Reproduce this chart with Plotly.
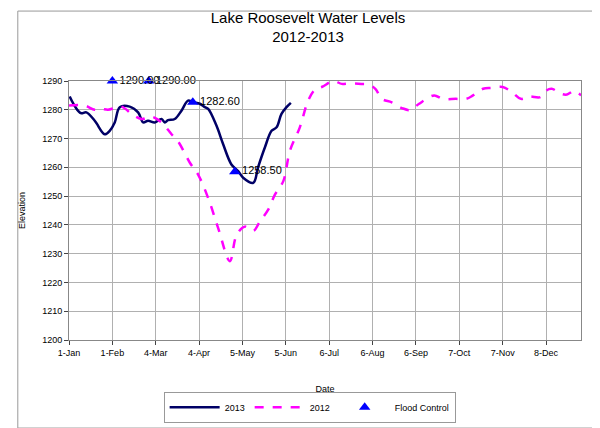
import plotly.graph_objects as go

# day of year (0 = 1-Jan)
days_2013 = [0.5, 2.9, 6.4, 8.8, 12.4, 18.4, 25.5, 29.1, 32.7, 36.3, 43.4, 49.4, 53, 56.5, 61.3, 66.1,
             68.5, 70.8, 75.6, 80.4, 85.1, 88.7, 93.5, 97.1, 99.5, 105.4, 110.2, 116.1, 120.9, 124.5,
             131.7, 135.2, 140, 144.8, 148.4, 151.9, 155.5, 158.6]
elev_2013 = [1284.6, 1282.3, 1279.7, 1278.8, 1279.1, 1276.2, 1271.5, 1272.7, 1275.6, 1280.9, 1281.1,
             1279.1, 1275.6, 1276.2, 1275.6, 1276.8, 1275.6, 1276.4, 1276.8, 1279.7, 1283.2, 1282.6,
             1282.1, 1280.9, 1280.3, 1274.5, 1268, 1261, 1258.7, 1256.4, 1254.6, 1260.1, 1266.9,
             1272.7, 1273.9, 1278.6, 1280.9, 1282.4]

days_2012 = [0, 11, 18.4, 23.1, 27.9, 37.5, 44.6, 51.8, 58.9, 66.1, 73.3, 78, 86.4, 92.3, 99.5, 106.7,
             115, 119.8, 125.7, 131.7, 136.5, 142.4, 147.2, 153.2, 157.9, 165, 171, 175.8, 181, 189,
             195, 200, 209, 214, 219, 223.6, 230.7, 238, 244, 250, 261, 267, 276.6, 284, 288.8, 296,
             302, 310, 317, 323, 329, 337, 340.6, 345, 352, 356, 361, 366]
elev_2012 = [1281.5, 1281.5, 1280, 1280.3, 1280, 1281.1, 1278.6, 1276.8, 1277.6, 1275.6, 1271.5, 1269,
             1261.6, 1257.5, 1249.3, 1238.8, 1227.4, 1236.5, 1239.4, 1237.9, 1241.2, 1245.3, 1250.5,
             1255.2, 1265.7, 1273.9, 1283.2, 1287, 1288, 1290, 1289, 1289.2, 1289, 1288.8, 1287.3,
             1283.8, 1282.6, 1280.6, 1279.9, 1282, 1285, 1283.8, 1283.8, 1283.8, 1285, 1287.3, 1287.6,
             1287.9, 1286, 1283.8, 1284.6, 1284.4, 1286.5, 1287.3, 1285.5, 1285.3, 1286.5, 1285]

flood_days = [31, 57, 88.5, 118.5]
flood_elev = [1290.0, 1290.0, 1282.6, 1258.5]

tick_days = [0, 31, 62, 93, 124, 155, 186, 217, 248, 279, 310, 341]
tick_labels = ["1-Jan", "1-Feb", "4-Mar", "4-Apr", "5-May", "5-Jun", "6-Jul", "6-Aug",
               "6-Sep", "7-Oct", "7-Nov", "8-Dec"]

fig = go.Figure()
fig.add_trace(go.Scatter(x=days_2013, y=elev_2013, mode="lines", name="2013",
                         line=dict(color="#000066", width=2.5, shape="spline")))
fig.add_trace(go.Scatter(x=days_2012, y=elev_2012, mode="lines", name="2012",
                         line=dict(color="#FF00FF", width=2.5, dash="dash", shape="spline")))
fig.add_trace(go.Scatter(x=flood_days, y=flood_elev, mode="markers+text", name="Flood Control",
                         marker=dict(symbol="triangle-up", size=10, color="#0000FF"),
                         text=["%.2f" % v for v in flood_elev], textposition="middle right",
                         textfont=dict(size=11, color="black"), cliponaxis=False))

fig.update_layout(
    width=600, height=428,
    paper_bgcolor="white", plot_bgcolor="white",
    font=dict(family="Liberation Sans, Arial", color="black"),
    title=dict(text="Lake Roosevelt Water Levels<br>2012-2013", x=0.5, y=0.965,
               xanchor="center", yanchor="top", font=dict(size=15)),
    margin=dict(l=61, r=27, t=73, b=96, autoexpand=False),
    showlegend=True,
    legend=dict(orientation="h", x=0.47, xanchor="center", y=-0.2, yanchor="top",
                bordercolor="#999999", borderwidth=1, font=dict(size=9),
                itemwidth=50, traceorder="normal"),
)
fig.update_xaxes(range=[0, 366], tickvals=tick_days, ticktext=tick_labels,
                 showgrid=True, gridcolor="#b0b0b0", gridwidth=1, tickfont=dict(size=9),
                 showline=True, linecolor="#888888", ticks="outside", ticklen=4,
                 title=dict(text="Date", font=dict(size=9), standoff=28), mirror=True,
                 automargin=False)
fig.update_yaxes(range=[1200, 1290], dtick=10, showgrid=True, gridcolor="#b0b0b0",
                 tickfont=dict(size=9), showline=True, linecolor="#888888", ticks="outside",
                 ticklen=4, title=dict(text="Elevation", font=dict(size=9)), mirror=True,
                 automargin=False)

fig.add_shape(type="rect", xref="paper", yref="paper", x0=-0.1, x1=1.045, y0=-0.34, y1=1.27,
              line=dict(color="#999999", width=1))

fig.write_html("out.html")
